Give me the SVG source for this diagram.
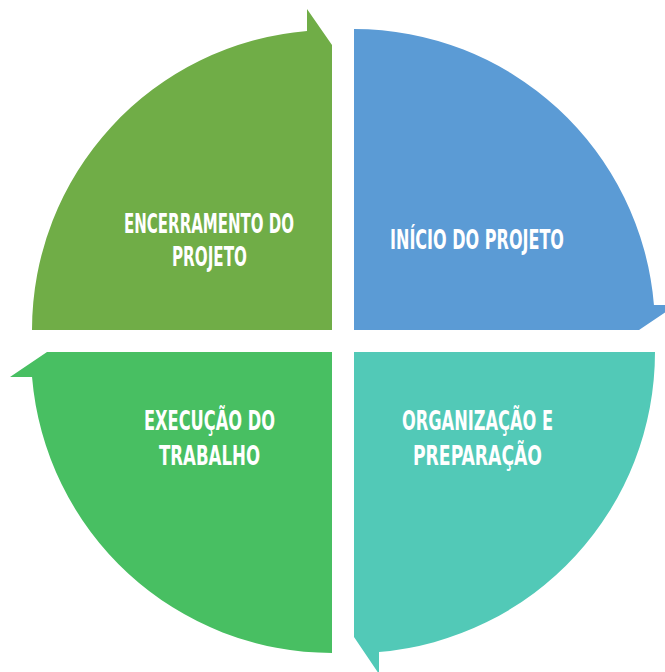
<svg xmlns="http://www.w3.org/2000/svg" width="665" height="672" viewBox="0 0 665 672">
<style>
.lbl{font-family:"DejaVu Sans Condensed","DejaVu Sans",sans-serif;font-stretch:condensed;font-weight:bold;font-size:27px;fill:#ffffff;text-anchor:middle}
</style>
<rect width="665" height="672" fill="#ffffff"/>
<g id="connectors"></g>
<g id="encerramento">
<path d="M332,330 L32,330 A300,300 0 0 1 307,31.04 L307,9 L332,45 Z" fill="#70AD47"/>
<text class="lbl" x="209" y="233" textLength="170" lengthAdjust="spacingAndGlyphs">ENCERRAMENTO DO</text>
<text class="lbl" x="209.5" y="266" textLength="75" lengthAdjust="spacingAndGlyphs">PROJETO</text>
</g>
<g id="inicio">
<path d="M354,330 L354,29 A301,301 0 0 1 653.96,305 L676,305 L639,330 Z" fill="#5B9BD5"/>
<text class="lbl" x="477" y="249" textLength="174" lengthAdjust="spacingAndGlyphs">INÍCIO DO PROJETO</text>
</g>
<g id="organizacao">
<path d="M354,352 L655,352 A301,301 0 0 1 379,651.96 L379,674 L354,637 Z" fill="#52C9B7"/>
<text class="lbl" x="477.5" y="430" textLength="151" lengthAdjust="spacingAndGlyphs">ORGANIZAÇÃO E</text>
<text class="lbl" x="477.5" y="465" textLength="129" lengthAdjust="spacingAndGlyphs">PREPARAÇÃO</text>
</g>
<g id="execucao">
<path d="M332,352 L332,653 A301,301 0 0 1 32.04,377 L10,377 L47,352 Z" fill="#48BF62"/>
<text class="lbl" x="209.5" y="430" textLength="131" lengthAdjust="spacingAndGlyphs">EXECUÇÃO DO</text>
<text class="lbl" x="209.5" y="465" textLength="101" lengthAdjust="spacingAndGlyphs">TRABALHO</text>
</g>
</svg>
